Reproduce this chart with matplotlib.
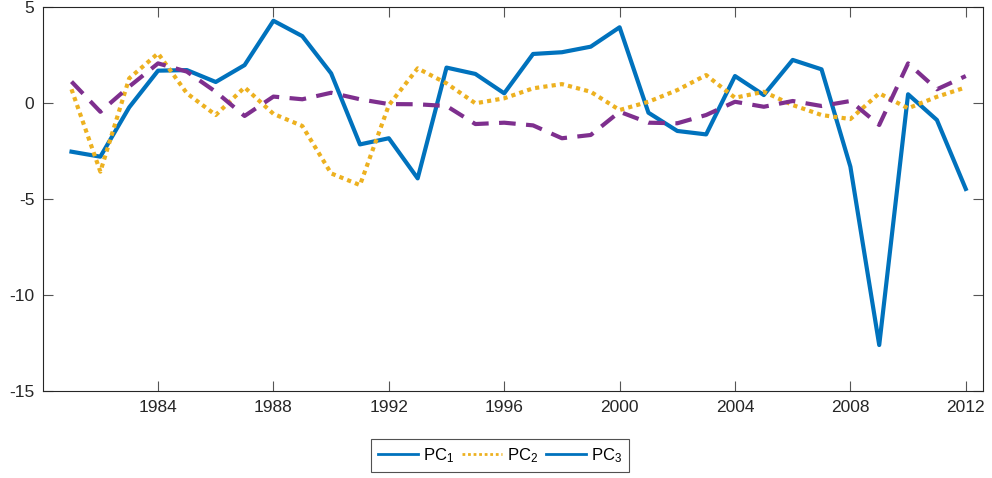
import matplotlib
matplotlib.use("Agg")
import matplotlib.pyplot as plt
from matplotlib.lines import Line2D

years = list(range(1981, 2013))

pc1 = [-2.52, -2.78, -0.21, 1.70, 1.73, 1.11, 1.99, 4.30, 3.50, 1.56, -2.14,
       -1.82, -3.91, 1.86, 1.53, 0.52, 2.57, 2.66, 2.95, 3.96, -0.49,
       -1.44, -1.62, 1.42, 0.43, 2.26, 1.77, -3.30, -12.59, 0.47, -0.87, -4.46]
pc2 = [0.73, -3.56, 1.30, 2.60, 0.52, -0.61, 0.83, -0.55, -1.18, -3.65, -4.26,
       -0.10, 1.82, 1.04, 0.00, 0.26, 0.78, 1.00, 0.60, -0.35, 0.08,
       0.69, 1.47, 0.29, 0.60, -0.09, -0.61, -0.82, 0.52, -0.26, 0.34, 0.83]
pc3 = [1.13, -0.44, 0.87, 2.08, 1.65, 0.60, -0.66, 0.35, 0.21, 0.55, 0.21,
       -0.04, -0.05, -0.14, -1.08, -1.01, -1.15, -1.82, -1.65, -0.44, -1.01,
       -1.04, -0.61, 0.08, -0.18, 0.12, -0.14, 0.12, -1.13, 2.08, 0.73, 1.42]

xticks = list(range(1984, 2013, 4))
yticks = [-15, -10, -5, 0, 5]
labels = ['PC$_1$', 'PC$_2$', 'PC$_3$']

plt.rcParams['font.family'] = ['Liberation Sans', 'DejaVu Sans']
plt.rcParams['mathtext.fontset'] = 'custom'
plt.rcParams['mathtext.rm'] = 'Liberation Sans'
plt.rcParams['mathtext.default'] = 'regular'
plt.rcParams['axes.unicode_minus'] = False

fig = plt.figure(figsize=(9.92, 4.78), dpi=100)
ax = fig.add_axes([0.043, 0.1814, 0.948, 0.8033])

blue = '#0072BD'
yellow = '#EDB120'
purple = '#7E2F8E'
dark = '#262626'

ax.plot(years, pc1, color=blue, lw=3)
ax.plot(years, pc2, color=yellow, lw=3, linestyle=(0, (1, 1)))
ax.plot(years, pc3, color=purple, lw=3, linestyle=(0, (4, 2.5)))

ax.set_xlim(1980, 2012.6)
ax.set_ylim(-15, 5)
ax.set_xticks(xticks)
ax.set_yticks(yticks)
ax.tick_params(direction='in', top=True, right=True, labelsize=12.5,
               color='#555555', labelcolor=dark, length=7.2, width=0.8, pad=6)
for s in ax.spines.values():
    s.set_color(dark)
    s.set_linewidth(0.8)

# legend in the original shows PC3 with the same blue solid line as PC1
h1 = Line2D([], [], color=blue, lw=2)
h2 = Line2D([], [], color=yellow, lw=2, linestyle=(0, (1, 1)))
h3 = Line2D([], [], color=blue, lw=2)
leg = fig.legend([h1, h2, h3], labels, loc='center', bbox_to_anchor=(0.504, 0.047),
                 ncol=3, fontsize=12, frameon=True, fancybox=False,
                 handlelength=2.4, handletextpad=0.3, columnspacing=0.45,
                 borderpad=0.45, borderaxespad=0)
leg.get_frame().set_edgecolor(dark)
leg.get_frame().set_linewidth(0.8)

fig.savefig('out.png', dpi=100)
